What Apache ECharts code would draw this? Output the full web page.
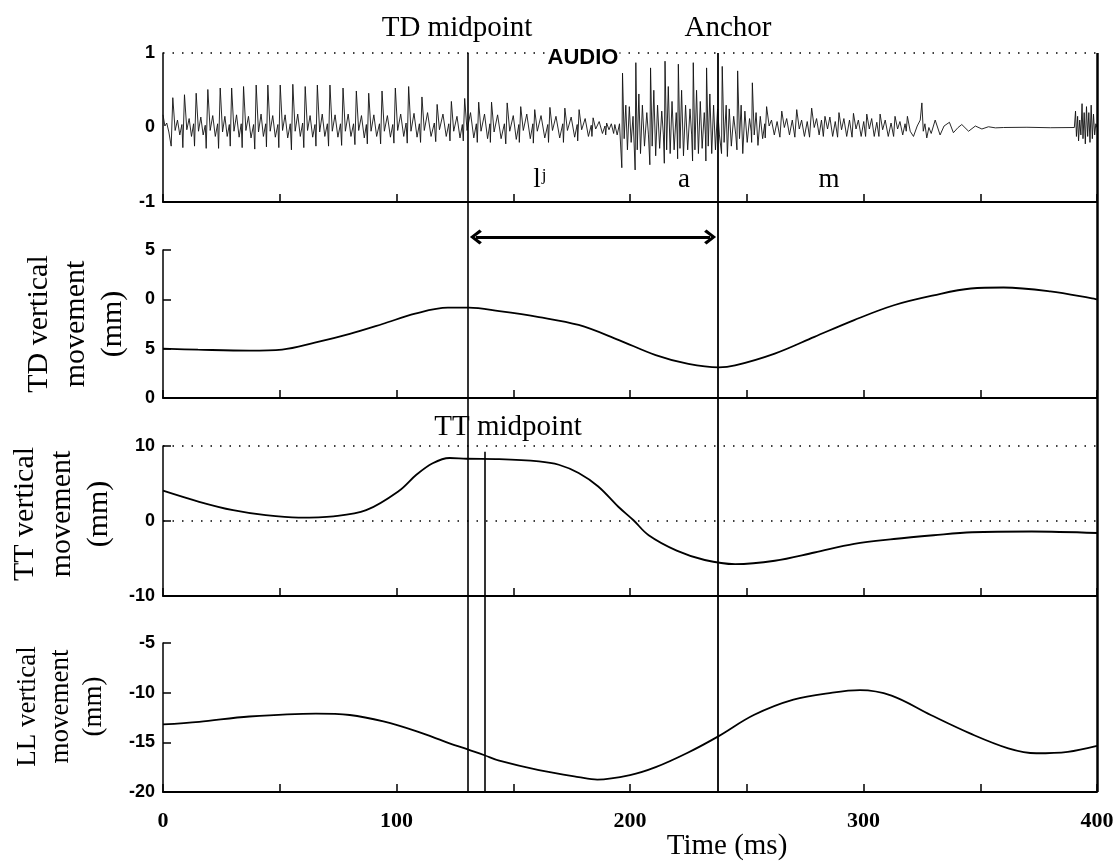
<!DOCTYPE html>
<html><head><meta charset="utf-8">
<script src="https://cdn.jsdelivr.net/npm/echarts@6/dist/echarts.min.js"></script>
<style>html,body{margin:0;padding:0;background:#fff}#main{width:1115px;height:863px}</style>
</head><body><div id="main"></div>
<script>
// ---- tick labels ----
const timeTickLabels = ['0', '100', '200', '300', '400'];
const audioTickLabels = ['-1', '0', '1'];
const tdTickLabels = ['0', '5', '0', '5'];
const ttTickLabels = ['-10', '0', '10'];
const llTickLabels = ['-20', '-15', '-10', '-5'];

// ---- event times (ms) ----
const tdMidpointT = 130.6;
const ttMidpointT = 137.9;
const anchorT = 237.7;

// ---- audio waveform (ms, amplitude) ----
const audioOnset = [[0,0.17],[0.8,0.02],[1.6,0.06],[2.5,-0.06],[3.5,-0.25],
[4.2,0.40],[5.2,-0.04],[6.2,0.10],[7.2,-0.10],[8.1,0.04],
[8.5,-0.27],[9.2,0.44],[10.2,-0.03],[11.2,0.12],[12.2,-0.12],[13.1,0.05],
[13.5,-0.25],[14.2,0.46],[15.2,-0.05],[16.2,0.14],[17.2,-0.10],[18.1,0.03],
[18.5,-0.28],[19.2,0.51],[20.2,-0.04],[21.3,0.16],[22.4,-0.12],[23.4,0.05],
[23.8,-0.28],[24.5,0.53],[25.5,-0.06],[26.5,0.15],[27.5,-0.12],[28.4,0.04],
[28.8,-0.25],[29.4,0.53],[30.4,-0.05],[31.5,0.17],[32.6,-0.13],[33.5,0.05],
[33.9,-0.27],[34.5,0.55],[35.5,-0.04],[36.6,0.15],[37.7,-0.14],[38.8,0.04],
[39.3,-0.29],[39.9,0.57],[40.9,-0.06],[42.0,0.18],[43.0,-0.12],[44.0,0.05],
[44.3,-0.26],[44.9,0.57],[45.9,-0.05],[47.0,0.16],[48.1,-0.13],[49.2,0.04],
[49.6,-0.27],[50.2,0.57],[51.2,-0.04],[52.3,0.17],[53.4,-0.14],[54.5,0.05],
[55.0,-0.30],[55.6,0.58],[56.6,-0.05],[57.7,0.18],[58.8,-0.12],[59.8,0.06],
[60.3,-0.27],[60.9,0.55],[61.9,-0.04],[63.0,0.16],[64.1,-0.13],[65.1,0.04],
[65.5,-0.25],[66.1,0.57],[67.1,-0.06],[68.2,0.18],[69.3,-0.12],[70.4,0.05],
[70.9,-0.25],[71.5,0.57],[72.5,-0.05],[73.7,0.17],[74.9,-0.13],[76.0,0.05],
[76.5,-0.24],[77.1,0.53],[78.1,-0.05],[79.3,0.18],[80.5,-0.12],[81.6,0.05]];
const audioLj = [[82.2,-0.23],[82.8,0.49],[83.8,-0.04],[85.0,0.16],[86.2,-0.14],[87.1,0.04],
[87.5,-0.22],[88.1,0.46],[89.1,-0.05],[90.3,0.17],[91.5,-0.12],[92.7,0.05],
[93.2,-0.22],[93.8,0.49],[94.8,-0.05],[96.1,0.16],[97.4,-0.13],[98.4,0.04],
[98.9,-0.21],[99.5,0.53],[100.5,-0.04],[101.8,0.18],[103.1,-0.12],[104.1,0.06],
[104.6,-0.21],[105.2,0.55],[106.2,-0.05],[107.5,0.19],[108.8,-0.13],[109.8,0.05],
[110.3,-0.20],[110.9,0.41],[111.9,-0.04],[113.3,0.20],[114.8,-0.12],[116.2,0.06],
[116.8,-0.19],[117.4,0.31],[118.4,-0.03],[119.9,0.18],[121.3,-0.12],[122.4,0.05],
[122.9,-0.18],[123.5,0.35],[124.5,-0.05],[125.9,0.15],[127.2,-0.14],[128.2,0.04],
[128.6,-0.18],[129.2,0.39],[130.2,-0.04],[131.7,0.20],[133.1,-0.14],[134.2,0.05],
[134.6,-0.20],[135.2,0.34],[136.2,-0.05],[137.7,0.18],[139.0,-0.15],[140.0,0.05],
[140.2,-0.20],[140.7,0.34],[141.8,-0.06],[143.3,0.17],[144.8,-0.15],[146.2,0.05],
[146.8,-0.22],[147.4,0.33],[148.5,-0.05],[150.0,0.16],[151.3,-0.16],[152.4,0.04],
[152.6,-0.20],[153.2,0.28],[154.3,-0.04],[155.8,0.18],[157.3,-0.15],[158.4,0.05],
[158.6,-0.21],[159.2,0.24],[160.3,-0.05],[161.9,0.16],[163.5,-0.14],[164.8,0.04],
[165.1,-0.20],[165.7,0.27],[166.8,-0.04],[168.3,0.15],[169.9,-0.14],[171.2,0.05],
[171.5,-0.20],[172.1,0.26],[173.2,-0.04],[174.8,0.14],[176.3,-0.13],[177.4,0.04],
[177.6,-0.18],[178.2,0.24],[179.3,-0.03],[180.8,0.12],[182.2,-0.12],[183.4,0.03],
[183.7,-0.12],[184.2,0.13],[185.3,-0.02],[186.8,0.08],[188.2,-0.08],[189.3,0.02],
[189.6,-0.10],[190.0,0.06],[191.0,-0.03],[192.0,0.05],[193.0,-0.08],[193.5,0.04],[194.5,-0.10],[195.5,0.05]];
const audioA = [[196.5,-0.54],[196.8,0.73],[197.5,-0.15],[198.2,0.30],[198.9,-0.30],[199.7,0.28],[200.5,-0.20],[201.3,0.15],
[202.2,-0.57],[202.5,0.87],[203.1,-0.30],[203.8,0.45],[204.5,-0.35],[205.3,0.30],[206.2,-0.25],[207.2,0.20],[207.9,-0.10],
[208.5,-0.50],[208.8,0.80],[209.5,-0.25],[210.2,0.50],[211.0,-0.38],[211.8,0.30],[212.7,-0.28],[213.6,0.22],[214.3,-0.10],
[214.7,-0.48],[215.0,0.89],[215.7,-0.30],[216.4,0.55],[217.2,-0.35],[218.0,0.35],[218.9,-0.30],[219.8,0.20],[220.2,-0.10],
[220.4,-0.42],[220.7,0.85],[221.4,-0.28],[222.1,0.50],[222.9,-0.38],[223.8,0.30],[224.7,-0.30],[225.7,0.25],[226.4,-0.10],
[226.8,-0.45],[227.1,0.87],[227.8,-0.30],[228.5,0.50],[229.3,-0.35],[230.1,0.35],[230.9,-0.28],[231.8,0.20],[232.3,-0.10],
[232.5,-0.45],[232.8,0.80],[233.5,-0.25],[234.2,0.45],[235.0,-0.35],[235.8,0.30],[236.6,-0.30],[237.5,0.25],[238.3,-0.10],
[239.2,-0.35],[239.5,0.82],[240.3,-0.20],[241.2,0.30],[241.7,-0.39],[242.5,0.25],[243.4,-0.25],[244.4,0.15],[245.3,-0.10],
[245.8,-0.30],[246.1,0.76],[246.9,-0.15],[247.6,0.30],[248.3,-0.35],[249.2,0.22],[250.2,-0.20],[251.2,0.12],[251.9,-0.05],
[252.1,-0.20],[252.4,0.60],[253.2,-0.10],[254.0,0.20],[254.8,-0.24],[255.8,0.15],[256.8,-0.15],[257.7,0.05]];
const audioM = [[257.9,-0.14],[258.5,0.28],[259.6,0.02],[260.6,0.10],[261.8,-0.10],[263.0,0.08],[264.2,-0.13],
[265.0,0.22],[266.1,0.00],[267.1,0.12],[268.3,-0.10],[269.5,0.10],[270.6,-0.13],
[271.4,0.24],[272.5,-0.02],[273.5,0.10],[274.7,-0.12],[275.9,0.08],[276.9,-0.13],
[277.8,0.26],[278.9,0.00],[279.9,0.12],[281.0,-0.10],[282.0,0.10],[282.8,-0.12],
[283.5,0.15],[284.6,-0.02],[285.6,0.14],[286.8,-0.12],[287.9,0.08],[288.9,-0.13],
[289.5,0.20],[290.6,-0.03],[291.6,0.12],[292.8,-0.12],[294.0,0.10],[295.1,-0.13],
[295.7,0.19],[296.8,-0.02],[297.8,0.10],[299.0,-0.12],[300.1,0.08],[300.9,-0.12],
[301.4,0.18],[302.5,-0.02],[303.5,0.12],[304.6,-0.12],[305.7,0.07],[306.6,-0.12],
[307.1,0.18],[308.2,-0.03],[309.3,0.10],[310.6,-0.12],[311.8,0.06],[312.9,-0.12],
[313.5,0.15],[314.6,-0.02],[315.6,0.08],[316.8,-0.10],[317.8,0.05],[318.3,-0.05],
[318.8,0.15],[320.0,-0.05],[321.4,-0.12],[323.0,0.02],[324.3,0.10],[325.0,0.33],[325.6,-0.05],[326.3,0.05],[327.1,-0.14],
[328.0,0.00],[329.0,-0.08],[330.7,0.10],[332.8,-0.10],[334.5,0.02],[336.8,0.07],[338.5,-0.07],[340.5,0.00],[342.1,0.04],
[345.0,-0.05],[347.9,0.02],[350.7,-0.02],[353.5,0.01],[356.5,-0.005],[360.0,0.00]];
const audioTail = [[370,0.003],[380,-0.003],[390.3,0.00],[390.8,0.22],[391.2,-0.12],[391.7,0.15],[392.1,-0.18],[392.6,0.10],
[393.1,-0.10],[393.6,0.32],[394.0,-0.15],[394.5,0.20],[395.0,-0.22],[395.5,0.28],[396.0,-0.12],[396.5,0.20],[397.0,-0.20],
[397.5,0.30],[398.0,-0.15],[398.5,0.18],[399.0,-0.10],[399.5,0.05],[400,0.00]];

// ---- articulator traces (ms, mm) ----
const tdTrace = [[0,5.0],[15,4.9],[37,4.8],[51,4.9],[65,5.6],[80,6.5],[94,7.5],[108,8.55],[122,9.15],[131,9.15],
[144,8.8],[161,8.2],[178,7.4],[195,5.9],[211,4.35],[225,3.45],[238,3.1],[245,3.3],[262,4.5],[279,6.2],[296,7.9],
[313,9.4],[330,10.4],[346,11.1],[360,11.2],[380,10.8],[400,10.0]];
const ttTrace = [[0,4.04],[15.5,2.56],[30,1.44],[44,0.77],[58,0.45],[73,0.63],[87,1.44],[101,4.0],[108.5,6.16],
[115.5,7.7],[122.7,8.4],[130,8.3],[144,8.25],[161,7.95],[169.5,7.5],[178,6.4],[186.4,4.6],[195,1.9],[201.5,0.1],
[208,-1.9],[220,-3.95],[232,-5.2],[245,-5.75],[262,-5.3],[279,-4.2],[296,-3.05],[313,-2.4],[330,-1.9],[346.5,-1.5],
[372,-1.4],[400,-1.6]];
const llTrace = [[0,-13.2],[15.5,-12.93],[37,-12.4],[65.5,-12.1],[80,-12.25],[94.4,-12.9],[108.7,-13.9],[122.7,-15.1],
[130.5,-15.7],[137.7,-16.3],[144,-16.85],[161,-17.8],[178,-18.5],[186,-18.75],[200,-18.3],[211,-17.5],[224.7,-16.05],
[237.8,-14.4],[253,-12.25],[270,-10.7],[286.7,-10.0],[298.5,-9.75],[312,-10.3],[328.8,-12.25],[345.6,-14.1],
[362,-15.6],[374,-16.1],[387.5,-15.95],[400,-15.35]];

const audioData = audioOnset.concat(audioLj, audioA, audioM, audioTail);

const SERIF = '"Liberation Serif", "Times New Roman", serif';
const SANS = '"Liberation Sans", Arial, sans-serif';

function xAx(gi, showLabels) {
  return {
    type: 'value', gridIndex: gi, min: 0, max: 400, interval: 50,
    axisLine: { show: true, onZero: false, lineStyle: { color: '#000', width: 2 } },
    axisTick: { show: true, inside: true, length: 8, lineStyle: { color: '#000', width: 1.5 } },
    axisLabel: {
      show: showLabels, margin: 18, color: '#000', fontFamily: SERIF, fontWeight: 'bold', fontSize: 22,
      formatter: v => timeTickLabels.indexOf(String(v)) >= 0 ? String(v) : ''
    },
    splitLine: { show: false }
  };
}
function yAx(gi, min, max, interval, labels, showTick, name, nameGap, nameSize, lineH, padLeft) {
  return {
    type: 'value', gridIndex: gi, min: min, max: max, interval: interval,
    axisLine: { show: true, onZero: false, lineStyle: { color: '#000', width: 1.5 } },
    axisTick: { show: showTick, inside: true, length: 8, lineStyle: { color: '#000', width: 1.5 } },
    axisLabel: {
      margin: 8, color: '#000', fontFamily: SANS, fontWeight: 'bold', fontSize: 18,
      formatter: v => labels[Math.round((v - min) / interval)]
    },
    splitLine: { show: false },
    name: name, nameLocation: 'middle', nameRotate: 90, nameGap: nameGap,
    nameTextStyle: { fontFamily: SERIF, fontSize: nameSize, lineHeight: lineH, color: '#000', padding: [0, 0, 0, padLeft] }
  };
}
const gridBase = { left: 163, right: 18, containLabel: false, outerBoundsMode: 'none' };
const dotted = { type: [1.5, 8], color: '#000', width: 1.5 };
const chevron = 'path://M10,0 L20,12 L17,15 L10,6 L3,15 L0,12 Z';

const option = {
  animation: false,
  backgroundColor: '#fff',
  grid: [
    Object.assign({ top: 53, height: 149 }, gridBase),
    Object.assign({ top: 250, height: 148 }, gridBase),
    Object.assign({ top: 446, height: 150 }, gridBase),
    Object.assign({ top: 643, height: 149 }, gridBase),
    Object.assign({ top: 53, height: 739 }, gridBase)
  ],
  xAxis: [xAx(0, false), xAx(1, false), xAx(2, false), xAx(3, true),
    { type: 'value', gridIndex: 4, min: 0, max: 400, show: false }],
  yAxis: [
    yAx(0, -1, 1, 1, audioTickLabels, false, '', 0, 10, 10, 0),
    yAx(1, 0, 15, 5, tdTickLabels, true, 'TD vertical\nmovement\n(mm)', 31, 30, 37, 0),
    yAx(2, -10, 10, 10, ttTickLabels, true, 'TT vertical\nmovement\n(mm)', 45, 30, 37, 14),
    yAx(3, -20, -5, 5, llTickLabels, true, 'LL vertical\nmovement\n(mm)', 53, 27, 33, 22),
    { type: 'value', gridIndex: 4, min: 0, max: 1, show: false }
  ],
  series: [
    {
      type: 'line', xAxisIndex: 0, yAxisIndex: 0, data: audioData, symbol: 'none',
      lineStyle: { color: '#111', width: 0.9 }, z: 3,
      markLine: { silent: true, symbol: 'none', label: { show: false }, lineStyle: dotted, data: [{ yAxis: 1 }] }
    },
    {
      type: 'line', xAxisIndex: 1, yAxisIndex: 1, data: tdTrace, symbol: 'none', smooth: 0.35,
      lineStyle: { color: '#000', width: 1.8 }
    },
    {
      type: 'line', xAxisIndex: 2, yAxisIndex: 2, data: ttTrace, symbol: 'none', smooth: 0.35,
      lineStyle: { color: '#000', width: 1.8 },
      markLine: { silent: true, symbol: 'none', label: { show: false }, lineStyle: dotted, data: [{ yAxis: 10 }, { yAxis: 0 }] }
    },
    {
      type: 'line', xAxisIndex: 3, yAxisIndex: 3, data: llTrace, symbol: 'none', smooth: 0.35,
      lineStyle: { color: '#000', width: 1.8 }
    },
    {
      type: 'line', xAxisIndex: 4, yAxisIndex: 4, data: [], symbol: 'none',
      markLine: {
        silent: true, symbol: 'none', label: { show: false },
        lineStyle: { color: '#000', width: 1.6, type: 'solid' },
        data: [
          { xAxis: tdMidpointT },
          { xAxis: anchorT, lineStyle: { width: 1.8, type: 'solid', color: '#000' } },
          { xAxis: 400, lineStyle: { width: 2.5, type: 'solid', color: '#000' } },
          [{ coord: [ttMidpointT, 0] }, { coord: [ttMidpointT, 0.4605] }]
        ]
      }
    },
    {
      type: 'line', xAxisIndex: 4, yAxisIndex: 4, data: [], symbol: 'none',
      markLine: {
        silent: true, symbol: [chevron, chevron], symbolSize: [15, 12], label: { show: false },
        lineStyle: { color: '#000', width: 3, type: 'solid' },
        data: [[{ coord: [134.0, 0.751] }, { coord: [234.3, 0.751] }]]
      }
    }
  ],
  graphic: [
    { type: 'text', x: 457, y: 28, z: 100, style: { text: 'TD midpoint', font: '29px ' + SERIF, fill: '#000', align: 'center', verticalAlign: 'middle' } },
    { type: 'text', x: 728, y: 28, z: 100, style: { text: 'Anchor', font: '29px ' + SERIF, fill: '#000', align: 'center', verticalAlign: 'middle' } },
    { type: 'text', x: 508, y: 427, z: 100, style: { text: 'TT midpoint', font: '29px ' + SERIF, fill: '#000', align: 'center', verticalAlign: 'middle' } },
    { type: 'text', x: 583, y: 58, z: 100, style: { text: 'AUDIO', font: 'bold 22px ' + SANS, fill: '#000', align: 'center', verticalAlign: 'middle', backgroundColor: '#fff', padding: [0, 1, 0, 1] } },
    { type: 'text', x: 537, y: 180, z: 100, style: { text: 'l', font: '27px ' + SERIF, fill: '#000', align: 'center', verticalAlign: 'middle' } },
    { type: 'text', x: 544, y: 176, z: 100, style: { text: 'j', font: '17px ' + SERIF, fill: '#000', align: 'center', verticalAlign: 'middle' } },
    { type: 'text', x: 684, y: 180, z: 100, style: { text: 'a', font: '27px ' + SERIF, fill: '#000', align: 'center', verticalAlign: 'middle' } },
    { type: 'text', x: 829, y: 180, z: 100, style: { text: 'm', font: '27px ' + SERIF, fill: '#000', align: 'center', verticalAlign: 'middle' } },
    { type: 'text', x: 727, y: 846, z: 100, style: { text: 'Time (ms)', font: '29px ' + SERIF, fill: '#000', align: 'center', verticalAlign: 'middle' } }
  ]
};
const chart = echarts.init(document.getElementById('main'), null, { renderer: 'canvas' });
chart.setOption(option);
</script>
</body></html>
